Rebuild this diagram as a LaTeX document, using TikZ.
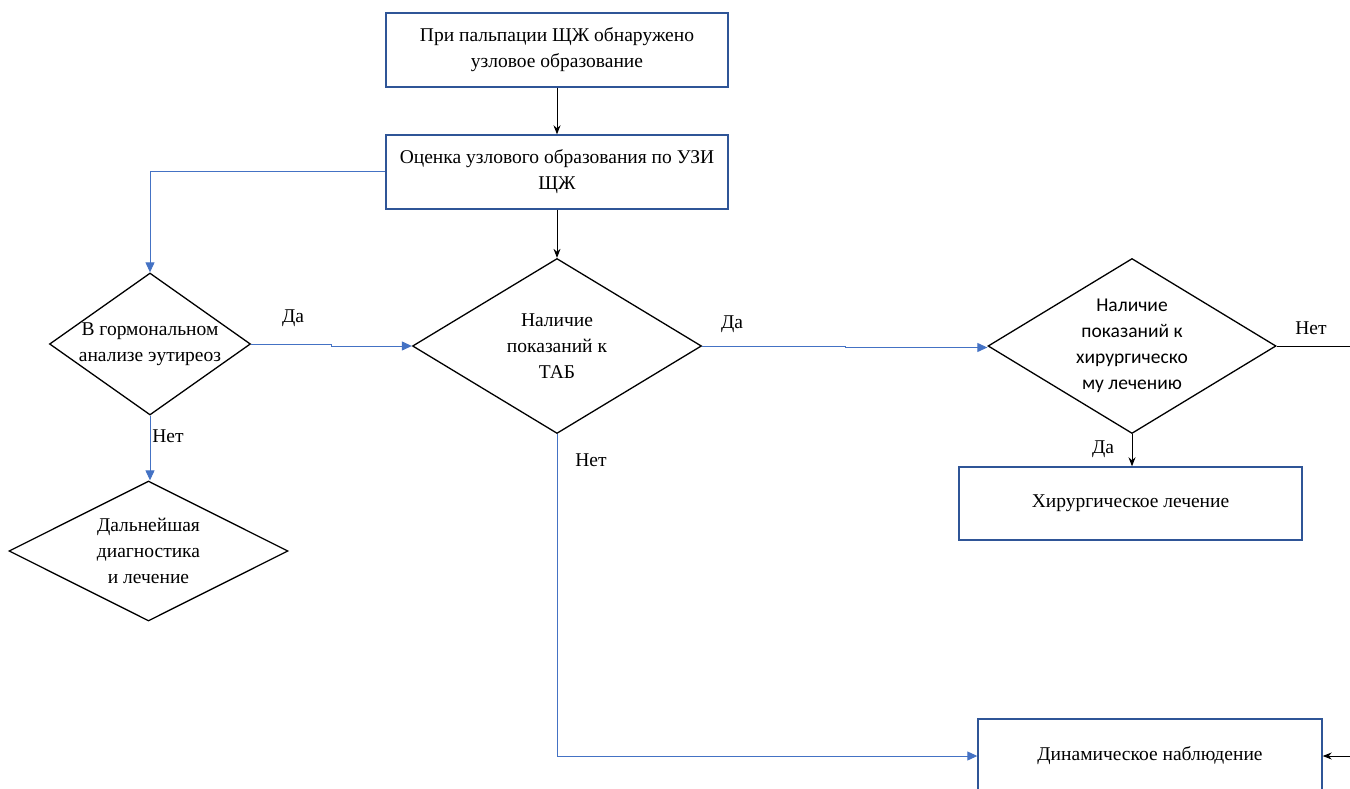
\documentclass[tikz,border=0pt]{standalone}
\usepackage{fontspec}
\setmainfont{Liberation Serif}
\newfontfamily\calib{Carlito}
\usetikzlibrary{shapes.geometric,arrows.meta}
\definecolor{boxblue}{HTML}{2F5597}
\definecolor{lineblue}{HTML}{4472C4}
\tikzset{
  boxst/.style={draw=boxblue, line width=1.4pt, inner sep=0pt, align=center,
    font=\rmfamily\fontsize{19.5}{26}\selectfont},
  dia/.style={draw=black, line width=1.3pt, shape=diamond, inner sep=0pt},
  diatext/.style={align=center, inner sep=0pt, font=\rmfamily\fontsize{19.5}{26}\selectfont},
  lbl/.style={inner sep=0pt, font=\rmfamily\fontsize{19.5}{26}\selectfont},
  bline/.style={draw=lineblue, line width=1pt, -{Triangle[length=10pt,width=9pt]}},
  kline/.style={draw=black, line width=0.9pt, -{Stealth[length=9pt,width=7pt]}},
  kplain/.style={draw=black, line width=0.9pt}
}
\begin{document}
\begin{tikzpicture}[x=1pt,y=-1pt]
\useasboundingbox (0,0) rectangle (1350,789);
% boxes
\node[boxst, minimum width=342pt, minimum height=74pt] (b1) at (557,50)
  {При пальпации ЩЖ обнаружено\\узловое образование};
\node[boxst, minimum width=342pt, minimum height=74pt] (b2) at (557,172)
  {Оценка узлового образования по УЗИ\\ЩЖ};
\node[boxst, minimum width=343pt, minimum height=73pt] (b4) at (1130.5,503.5)
  {Хирургическое лечение};
\node[boxst, minimum width=344pt, minimum height=74pt] (b3) at (1150,756)
  {Динамическое наблюдение};
% diamonds
\node[dia, minimum width=201pt, minimum height=142pt] (d1) at (150,344) {};
\node[diatext] at (d1.center) {В гормональном\\анализе эутиреоз};
\node[dia, minimum width=289pt, minimum height=175pt] (d2) at (557,346) {};
\node[diatext] at (d2.center) {Наличие\\показаний к\\ТАБ};
\node[dia, minimum width=288pt, minimum height=175pt] (d3) at (1132,346) {};
\node[diatext, font=\calib\fontsize{19.5}{26}\selectfont] at (d3.center)
  {Наличие\\показаний к\\хирургическо\\му лечению};
\node[dia, minimum width=279pt, minimum height=140pt] (d4) at (148.5,551) {};
\node[diatext] at (d4.center) {Дальнейшая\\диагностика\\и лечение};
% free ends
\coordinate (eR1) at (1350,346);
\coordinate (eR2) at (1350,756);
% connectors
\draw[kline] (b1.south) -- (b2.north);
\draw[bline] (b2.west) -| (d1.north);
\draw[kline] (b2.south) -- (d2.north);
\draw[bline] (d1.east) -- ++(80,0) |- (d2.west);
\draw[bline] (d2.east) -- ++(143,0) -- ++(0,1.5) -- ([yshift=-1.5pt]d3.west);
\draw[kplain] (d3.east) -- (eR1);
\draw[kline] (d3.south) -- (d3.south |- b4.north);
\draw[bline] (d1.south) -- (d1.south |- d4.north);
\draw[bline] (d2.south) |- (b3.west);
\draw[kline] (eR2) -- (b3.east);
% labels
\node[lbl] (l1) at (293,318) {Да};
\node[lbl] (l2) at (732,324) {Да};
\node[lbl] (l3) at (1311,328) {Нет};
\node[lbl] (l4) at (1103,449) {Да};
\node[lbl] (l5) at (168,436) {Нет};
\node[lbl] (l6) at (591,460) {Нет};
\end{tikzpicture}
\end{document}
